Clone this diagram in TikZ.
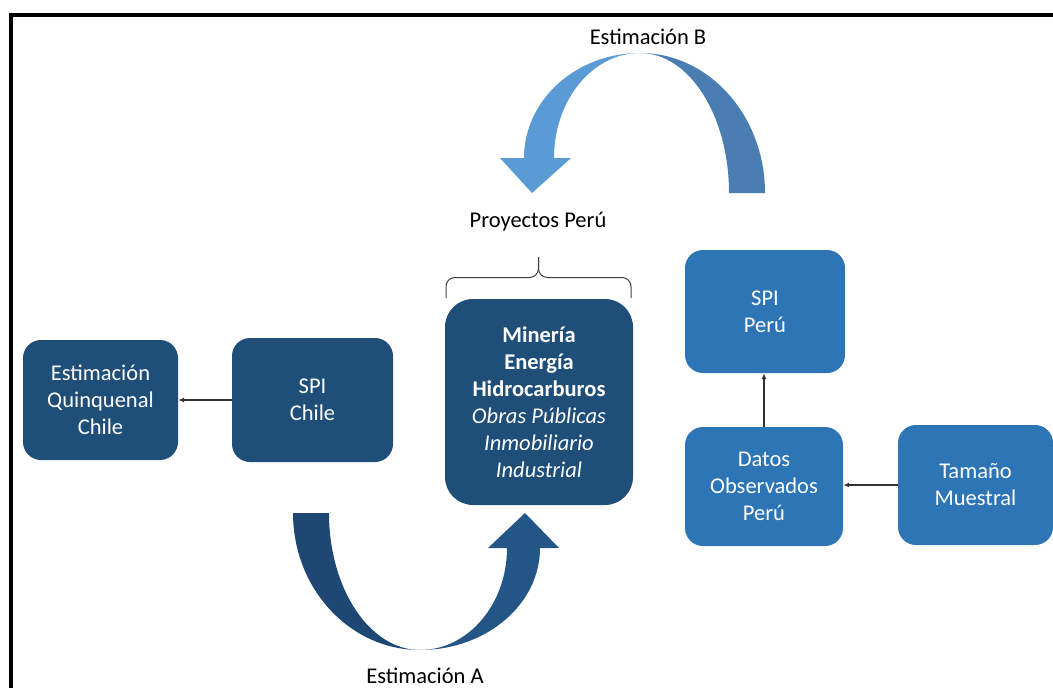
\documentclass[tikz,border=0pt]{standalone}
\usepackage{fontspec}
\setmainfont{Carlito}
\usepackage{xcolor}
\usetikzlibrary{arrows.meta}
\definecolor{darkbox}{HTML}{1F4E79}
\definecolor{lightbox}{HTML}{2E75B6}
\definecolor{bandAl}{HTML}{1E4873}
\definecolor{bandAr}{HTML}{235686}
\definecolor{bandBl}{HTML}{5B9BD5}
\definecolor{bandBr}{HTML}{4A7DB1}

\begin{document}
\begin{tikzpicture}[x=1pt, y=-1pt,
    txt/.style={font=\fontsize{22.5}{27}\selectfont},
    boxd/.style={txt, fill=darkbox, text=white, rounded corners=18pt, align=center, inner sep=0pt},
    boxl/.style={boxd, fill=lightbox},
    arr/.style={-{Latex[length=6pt,width=5pt]}, line width=1.2pt, black!80}]
        \useasboundingbox (0,0) rectangle (1053,688);
        \clip (0,0) rectangle (1053,688);
        % Frame
        \draw[line width=4pt] (11,700) -- (11,14.5) -- (1070,14.5);

        % Chile
        \node[boxd, minimum width=155pt, minimum height=120pt] (quinq) at (100.5,400) {Estimación\\Quinquenal\\Chile};
        \node[boxd, minimum width=161pt, minimum height=124pt] (spichile) at (312.5,400) {SPI\\Chile};
        \draw[arr] (spichile) -- (quinq);

        % Proyectos
        \node[boxd, rounded corners=28pt, minimum width=188pt, minimum height=206pt] (proy) at (539,402)
            {\textbf{Minería}\\\textbf{Energía}\\\textbf{Hidrocarburos}\\\textit{Obras Públicas}\\\textit{Inmobiliario}\\\textit{Industrial}};
        \draw[line width=1pt, black!75, rounded corners=9pt] (446,298) -- (446,277.5) -- (538.5,277.5) -- (538.5,257);
        \draw[line width=1pt, black!75, rounded corners=9pt] (631,298) -- (631,277.5) -- (538.5,277.5) -- (538.5,257);
        \node[txt] (proytxt) at (538,222) {Proyectos Perú};

        % Peru
        \node[boxl, minimum width=160pt, minimum height=123pt] (spiperu) at (765,311.5) {SPI\\Perú};
        \node[boxl, minimum width=158pt, minimum height=119pt] (datos) at (764,486.5) {Datos\\Observados\\Perú};
        \node[boxl, minimum width=155pt, minimum height=120pt] (tamano) at (975.5,485) {Tamaño\\Muestral};
        \draw[arr] (datos.north) -- (datos.north |- spiperu.south);
        \draw[arr] (tamano.west) -- (tamano.west -| datos.east);

        % Estimacion A
        \fill[bandAl] (293,513) .. controls (293,588.7) and (349.9,650) .. (420,650)
            .. controls (369.7,650) and (329,588.7) .. (329,513) -- cycle;
        \fill[bandAr] (420,650) .. controls (486.3,650) and (540,604.3) .. (540,548)
            -- (559,548) -- (525,513) -- (488,548) -- (507,548)
            .. controls (507,604.3) and (468,650) .. (420,650) -- cycle;
        \node[txt] (esta) at (425,676) {Estimación A};

        % Estimacion B
        \fill[bandBl] (640,53) .. controls (576,53) and (524,100) .. (524,158)
            -- (500,158) -- (532,193) -- (571,158) -- (554,158)
            .. controls (554,100) and (592.5,53) .. (640,53) -- cycle;
        \fill[bandBr] (765,193) .. controls (765,115.7) and (709,53) .. (640,53)
            .. controls (689.2,53) and (729,115.7) .. (729,193) -- cycle;
        \node[txt] (estb) at (648,37) {Estimación B};
    \end{tikzpicture}
\end{document}
